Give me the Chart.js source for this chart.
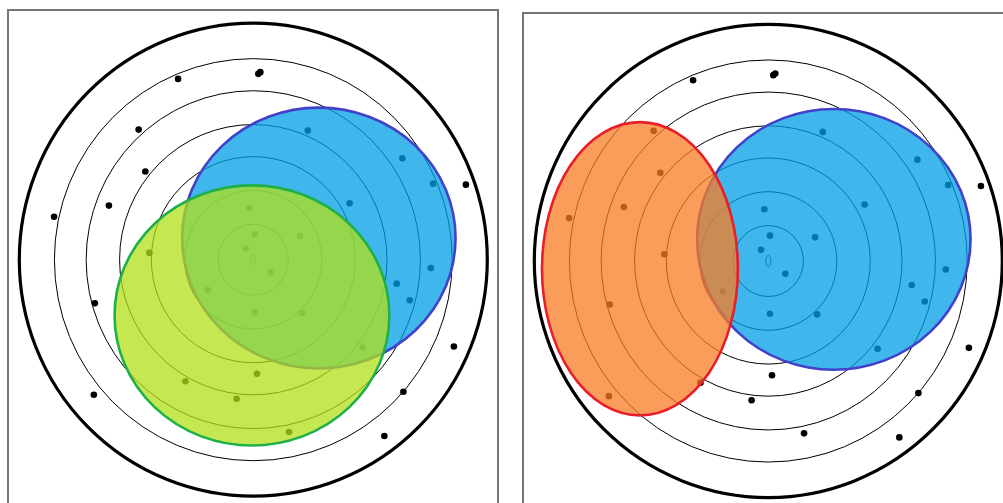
<!DOCTYPE html>
<html>
<head>
<meta charset="utf-8">
<script src="https://cdn.jsdelivr.net/npm/chart.js@4.4.1/dist/chart.umd.min.js"></script>
<style>
  html, body { margin: 0; padding: 0; background: #fff; overflow: hidden; width: 1003px; height: 503px; }
  .panel { position: absolute; box-sizing: border-box; border: 2px solid #767676; background: #fff; }
  #boxA { left: 7px; top: 9px; width: 492px; height: 501px; }
  #boxB { left: 522px; top: 12px; width: 492px; height: 498px; }
  canvas { display: block; }
</style>
</head>
<body>
<div class="panel" id="boxA"><canvas id="targetA" width="488" height="497"></canvas></div>
<div class="panel" id="boxB"><canvas id="targetB" width="488" height="494"></canvas></div>
<script>
// Target rings (radius in ring units); the last one is the bold outer ring
const ringRadii = [1.05, 2.05, 3.05, 4.0, 5.0, 5.95, 7.0];
// Centre mark
const centreMark = [0.075, 0.165];

// Shot positions (x, y in ring units from the target centre)
const shotX = [0.15, 0.21, -2.25, -3.43, -3.23, -4.32, -5.96, 6.36, -4.74, -4.77, 6.00, 4.49, 3.92,
               1.63, 4.46, 5.38, 2.88, 5.31, 4.29, 4.68,
               -0.12, 0.05, 1.40, -0.22, 0.51, -1.36, 0.05, 1.46, 3.27,
               -3.11, 0.11, -2.03, -0.50, 1.07];
const shotY = [5.50, 5.55, 5.35, 3.85, 2.61, 1.60, 1.27, 2.22, -1.29, -4.00, -2.57, -3.91, -5.22,
               3.82, 3.00, 2.25, 1.67, -0.25, -0.71, -1.20,
               1.53, 0.75, 0.70, 0.33, -0.38, -0.90, -1.56, -1.58, -2.60,
               0.20, -3.38, -3.60, -4.12, -5.10];

// Group ellipses: centre, semi-axes (ring units)
const groupCx = [1.96, -0.04, -3.84];
const groupCy = [0.64, -1.65, -0.23];
const groupRx = [4.09, 4.11, 2.93];
const groupRy = [3.86, 3.85, 4.34];
const groupFill = ['rgba(0,159,230,0.75)', 'rgba(178,224,24,0.75)', 'rgba(250,124,35,0.75)'];
const groupEdge = ['#4141c9', '#1fb04a', '#e81f2a'];

// Which groups each panel shows, in drawing order
const panelGroups = [[0, 1], [0, 2]];
// Axis windows per panel
const panelXRange = [[-7.308, 7.29], [-7.308, 7.29]];
const panelYRange = [[-7.35, 7.36], [-7.31, 7.31]];

function ellipseAt(chart, cx, cy, rx, ry) {
  const xs = chart.scales.x, ys = chart.scales.y;
  const px = xs.getPixelForValue(cx), py = ys.getPixelForValue(cy);
  const prx = Math.abs(xs.getPixelForValue(cx + rx) - px);
  const pry = Math.abs(ys.getPixelForValue(cy + ry) - py);
  const ctx = chart.ctx;
  ctx.beginPath();
  ctx.ellipse(px, py, prx, pry, 0, 0, Math.PI * 2);
}

const targetRings = {
  id: 'targetRings',
  beforeDatasetsDraw(chart) {
    const ctx = chart.ctx;
    ctx.save();
    ringRadii.forEach((r, i) => {
      ellipseAt(chart, 0, 0, r, r);
      ctx.strokeStyle = '#000';
      ctx.lineWidth = i === ringRadii.length - 1 ? 3.2 : 1;
      ctx.stroke();
    });
    ellipseAt(chart, 0, 0, centreMark[0], centreMark[1]);
    ctx.lineWidth = 0.8;
    ctx.stroke();
    ctx.restore();
  }
};

const groupEllipses = {
  id: 'groupEllipses',
  afterDatasetsDraw(chart, args, opts) {
    const ctx = chart.ctx;
    ctx.save();
    opts.groups.forEach(g => {
      ellipseAt(chart, groupCx[g], groupCy[g], groupRx[g], groupRy[g]);
      ctx.fillStyle = groupFill[g];
      ctx.fill();
      ctx.strokeStyle = groupEdge[g];
      ctx.lineWidth = 2.6;
      ctx.stroke();
    });
    ctx.restore();
  }
};

function makeTarget(canvasId, p) {
  const shots = shotX.map((x, i) => ({ x: x, y: shotY[i] }));
  return new Chart(document.getElementById(canvasId), {
    type: 'scatter',
    data: {
      datasets: [{
        data: shots,
        pointRadius: 3.3,
        pointHoverRadius: 3.3,
        pointBackgroundColor: '#000',
        pointBorderWidth: 0,
        borderColor: '#000'
      }]
    },
    options: {
      responsive: false,
      animation: false,
      events: [],
      layout: { padding: 0, autoPadding: false },
      scales: {
        x: { type: 'linear', display: false, min: panelXRange[p][0], max: panelXRange[p][1] },
        y: { type: 'linear', display: false, min: panelYRange[p][0], max: panelYRange[p][1] }
      },
      plugins: {
        legend: { display: false },
        tooltip: { enabled: false },
        groupEllipses: { groups: panelGroups[p] }
      }
    },
    plugins: [targetRings, groupEllipses]
  });
}

makeTarget('targetA', 0);
makeTarget('targetB', 1);
</script>
</body>
</html>
